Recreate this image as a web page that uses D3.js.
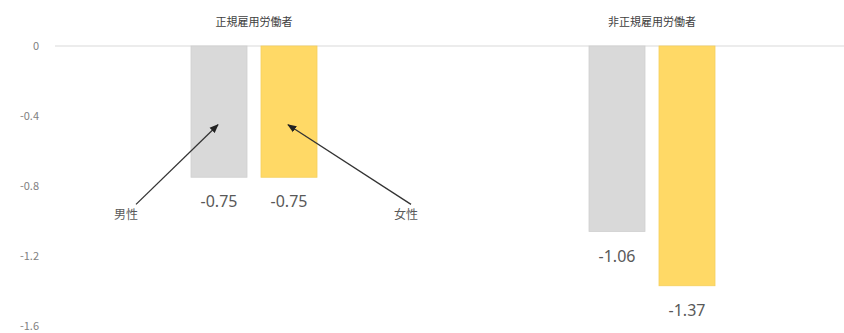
<!DOCTYPE html>
<html><head><meta charset="utf-8">
<script src="https://cdn.jsdelivr.net/npm/d3@7"></script>
<style>body{margin:0;background:#fff}svg{display:block;font-family:"Noto Sans CJK JP","Noto Sans",sans-serif}</style>
</head><body><svg id="c" width="844" height="333"></svg>
<script>
const categories = ["正規雇用労働者", "非正規雇用労働者"];
const seriesNames = ["男性", "女性"];
const maleValues = [-0.75, -1.06];
const femaleValues = [-0.75, -1.37];
const yTicks = [0, -0.4, -0.8, -1.2, -1.6];
const colors = ["#D9D9D9", "#FFD966"];

const svg = d3.select("#c");
const y = d3.scaleLinear().domain([0, -1.6]).range([46, 326]);
const x0 = d3.scaleBand().domain(categories).range([55, 851]).paddingInner(0).paddingOuter(0);
const x1 = d3.scaleBand().domain(seriesNames).range([x0.bandwidth()/2 - 63, x0.bandwidth()/2 + 63]).paddingInner(0.2).paddingOuter(0);

const fmt = d => String(d);
const yAxis = d3.axisLeft(y).tickValues(yTicks).tickSize(0).tickFormat(fmt);
const ga = svg.append("g").attr("transform", "translate(42,0)").call(yAxis);
ga.select(".domain").remove();
ga.selectAll("text").attr("fill", "#7f7f7f").attr("font-size", 11).attr("font-family", "Noto Sans CJK JP");

svg.append("line").attr("x1", 55).attr("x2", 844).attr("y1", y(0)).attr("y2", y(0)).attr("stroke", "#D9D9D9").attr("stroke-width", 1);

svg.selectAll(".cat").data(categories).join("text")
  .attr("x", d => x0(d) + x0.bandwidth()/2).attr("y", 26)
  .attr("text-anchor", "middle").attr("font-size", 11).attr("fill", "#404040").text(d => d);

const data = categories.map((c, i) => ({cat: c, vals: [maleValues[i], femaleValues[i]]}));
const g = svg.selectAll(".grp").data(data).join("g").attr("transform", d => `translate(${x0(d.cat)},0)`);
g.selectAll("rect").data(d => d.vals.map((v, j) => ({v, s: seriesNames[j], j}))).join("rect")
  .attr("x", d => x1(d.s)).attr("width", x1.bandwidth())
  .attr("y", y(0)).attr("height", d => y(d.v) - y(0))
  .attr("fill", d => colors[d.j]).attr("stroke", d => d.j ? "#F5CF5C" : "#CFCFCF").attr("stroke-width", 0.8);
g.selectAll(".lbl").data(d => d.vals.map((v, j) => ({v, s: seriesNames[j], j}))).join("text")
  .attr("x", d => x1(d.s) + x1.bandwidth()/2).attr("y", d => y(d.v) + 30)
  .attr("text-anchor", "middle").attr("font-size", 16).attr("fill", "#595959")
  .attr("font-family", "Noto Sans, sans-serif")
  .text(d => d.v.toFixed(2));

svg.append("defs").append("marker").attr("id", "ah").attr("viewBox", "0 0 10 10").attr("refX", 9).attr("refY", 5)
  .attr("markerWidth", 7).attr("markerHeight", 7).attr("orient", "auto-start-reverse")
  .append("path").attr("d", "M0,1 L10,5 L0,9 Z").attr("fill", "#222");
const annTipValue = -0.45;
const annDx = [-93, 117];
const annTailDx = [10, 5];
seriesNames.forEach((s, j) => {
  const cx = x0(categories[0]) + x1(s) + x1.bandwidth()/2;
  const tx = cx + annDx[j];
  svg.append("line").attr("x1", tx + annTailDx[j]).attr("y1", y(-0.905)).attr("x2", cx - 1).attr("y2", y(annTipValue))
    .attr("stroke", "#333").attr("stroke-width", 1.3).attr("marker-end", "url(#ah)");
  svg.append("text").attr("x", tx).attr("y", y(-0.99)).attr("text-anchor", "middle")
    .attr("font-size", 12).attr("fill", "#595959").text(s);
});
</script></body></html>
